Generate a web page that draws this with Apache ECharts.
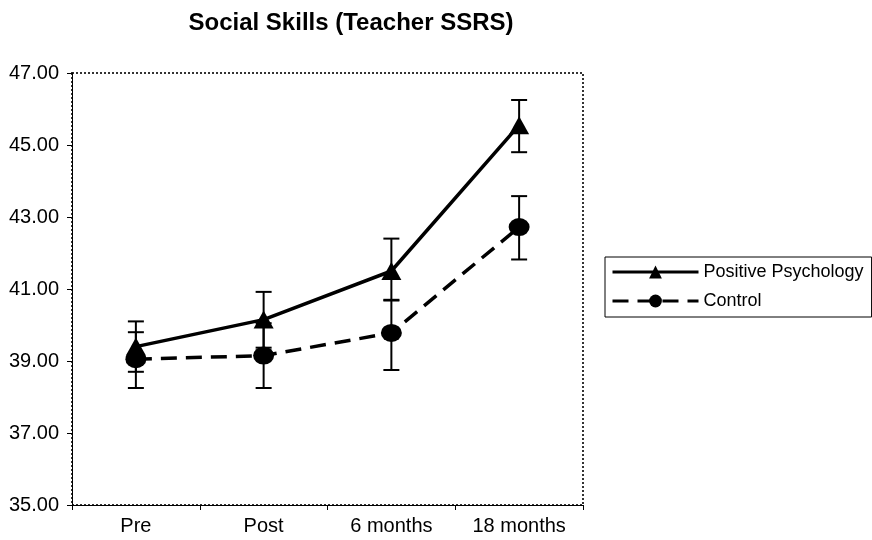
<!DOCTYPE html>
<html>
<head>
<meta charset="utf-8">
<script src="https://cdn.jsdelivr.net/npm/echarts@6/dist/echarts.min.js"></script>
<style>
  html, body { margin: 0; padding: 0; background: #fff; }
  #chart { width: 872px; height: 540px; }
</style>
</head>
<body>
<div id="chart"></div>
<script>
const categories = ['Pre', 'Post', '6 months', '18 months'];
const yTicks = [35, 37, 39, 41, 43, 45, 47];

const ppValues = [39.4, 40.15, 41.5, 45.55];
const ppLow = [38.7, 39.37, 40.68, 44.8];
const ppHigh = [40.1, 40.92, 42.4, 46.25];

const ctrlValues = [39.05, 39.15, 39.78, 42.72];
const ctrlLow = [38.25, 38.25, 38.75, 41.82];
const ctrlHigh = [39.8, 40.05, 40.7, 43.58];

const font = 'Liberation Sans, Arial, sans-serif';

function errorBars(low, high) {
    return {
        type: 'custom',
        silent: true,
        z: 1,
        data: low.map((l, i) => [i, l, high[i]]),
        renderItem: (params, api) => {
            const lo = api.coord([api.value(0), api.value(1)]);
            const hi = api.coord([api.value(0), api.value(2)]);
            const half = 8;
            const style = { stroke: '#000', lineWidth: 2 };
            return {
                type: 'group',
                children: [
                    { type: 'line', shape: { x1: lo[0], y1: lo[1], x2: hi[0], y2: hi[1] }, style },
                    { type: 'line', shape: { x1: lo[0] - half, y1: lo[1], x2: lo[0] + half, y2: lo[1] }, style },
                    { type: 'line', shape: { x1: hi[0] - half, y1: hi[1], x2: hi[0] + half, y2: hi[1] }, style }
                ]
            };
        }
    };
}

const chart = echarts.init(document.getElementById('chart'));
chart.setOption({
    animation: false,
    textStyle: { fontFamily: font, color: '#000' },
    title: {
        text: 'Social Skills (Teacher SSRS)',
        left: 346,
        textAlign: 'center',
        top: 6,
        textStyle: { fontSize: 24, fontWeight: 'bold', color: '#000', fontFamily: font }
    },
    grid: {
        left: 72,
        top: 73,
        right: 289,
        bottom: 35,
        show: true,
        borderColor: '#333',
        borderWidth: 2,
        borderType: 'dotted',
        backgroundColor: '#fff'
    },
    legend: {
        orient: 'vertical',
        left: 605,
        top: 257,
        padding: [6, 8, 7, 6],
        itemGap: 11,
        itemWidth: 86,
        itemHeight: 16,
        borderColor: '#000',
        borderWidth: 1,
        lineStyle: { width: 3 },
        textStyle: { fontSize: 18, color: '#000', fontFamily: font },
        data: ['Positive Psychology', 'Control']
    },
    xAxis: {
        type: 'category',
        data: categories,
        boundaryGap: true,
        axisLine: { lineStyle: { color: '#000', width: 1 } },
        axisTick: { show: true, length: 5, lineStyle: { color: '#000' } },
        axisLabel: { fontSize: 20, color: '#000', margin: 11, fontFamily: font }
    },
    yAxis: {
        type: 'value',
        min: yTicks[0],
        max: yTicks[yTicks.length - 1],
        interval: 2,
        splitLine: { show: false },
        axisLine: { show: true, lineStyle: { color: '#000', width: 1 } },
        axisTick: { show: true, length: 5, lineStyle: { color: '#000' } },
        axisLabel: {
            fontSize: 20, color: '#000', margin: 13, fontFamily: font,
            formatter: v => v.toFixed(2)
        }
    },
    series: [
        errorBars(ppLow, ppHigh),
        errorBars(ctrlLow, ctrlHigh),
        {
            name: 'Positive Psychology',
            type: 'line',
            data: ppValues,
            z: 3,
            symbol: 'triangle',
            symbolSize: [20, 18],
            itemStyle: { color: '#000' },
            lineStyle: { color: '#000', width: 3.5, type: 'solid' }
        },
        {
            name: 'Control',
            type: 'line',
            data: ctrlValues,
            z: 3,
            symbol: 'circle',
            symbolSize: [21, 18],
            itemStyle: { color: '#000' },
            lineStyle: { color: '#000', width: 3.5, type: [16, 9] }
        }
    ]
});
</script>
</body>
</html>
